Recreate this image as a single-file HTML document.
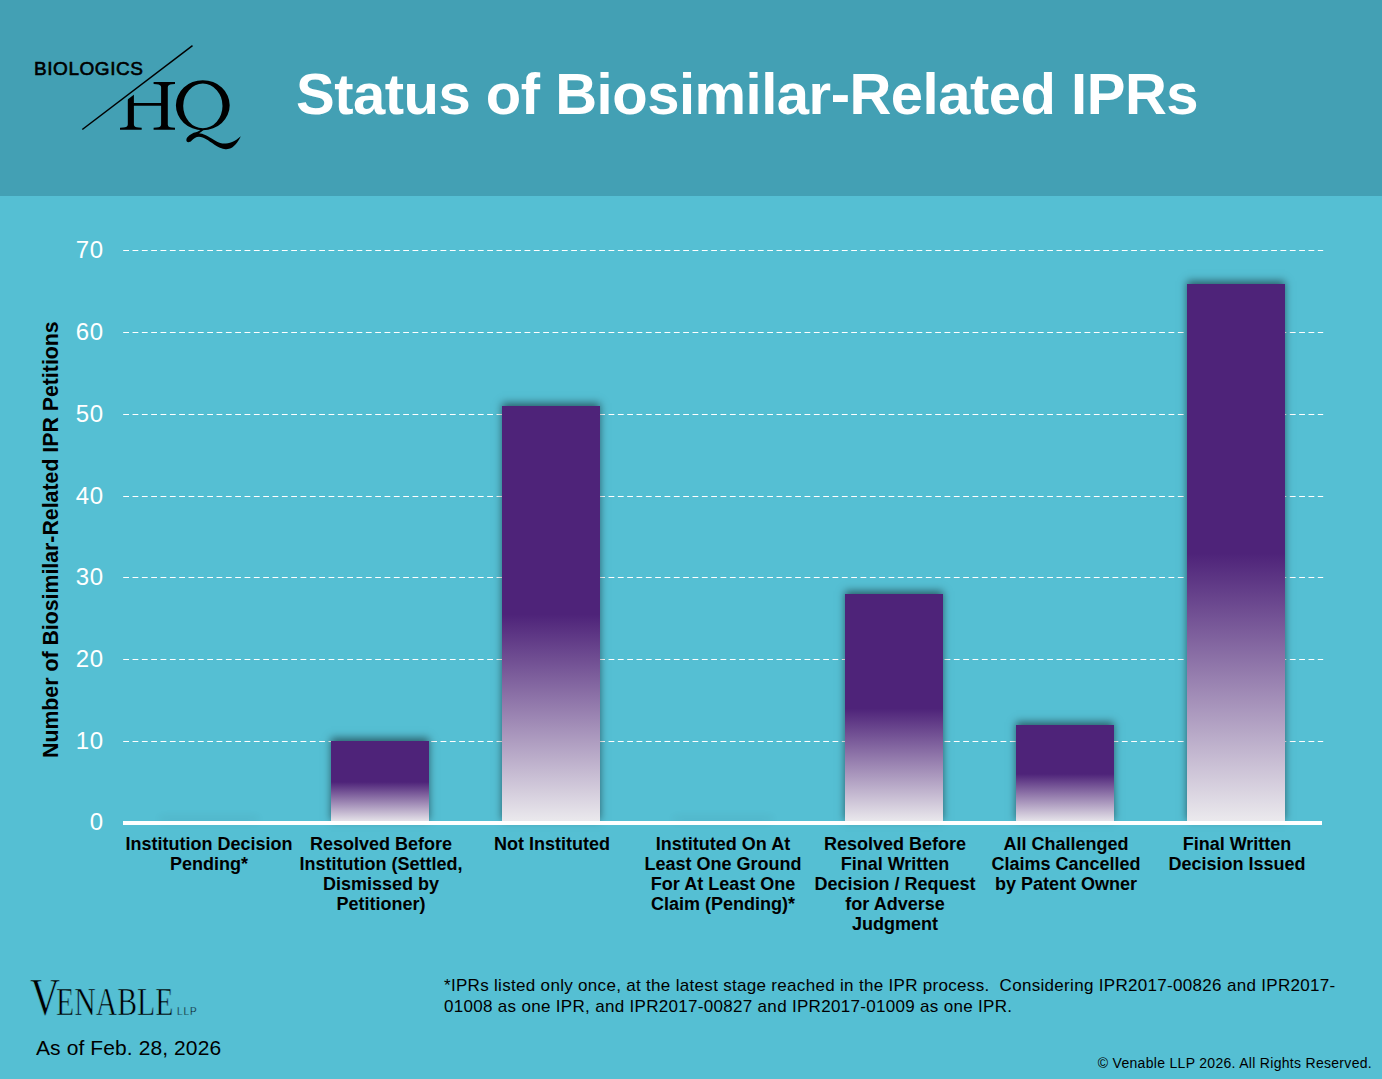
<!DOCTYPE html>
<html><head><meta charset="utf-8">
<style>
html,body{margin:0;padding:0;}
body{width:1382px;height:1079px;position:relative;overflow:hidden;background:#55bfd3;font-family:"Liberation Sans",sans-serif;}
.hdr{position:absolute;left:0;top:0;width:1382px;height:196px;background:#43a0b4;}
.title{position:absolute;left:296px;top:60.5px;font-weight:bold;font-size:58px;letter-spacing:-0.5px;color:#fff;white-space:nowrap;line-height:66px;}
.ylab{position:absolute;width:60px;text-align:right;color:#fff;font-size:24px;letter-spacing:0.6px;line-height:28px;}
.bar{position:absolute;width:98px;background:linear-gradient(to bottom,#4e2379 0%,#4e2379 50%,#ecebee 100%);box-shadow:0 -3px 8px rgba(0,0,0,0.5);}
.cat{position:absolute;width:180px;margin-left:1px;text-align:center;font-weight:bold;font-size:18px;line-height:20.05px;color:#000;}
.ytitle{position:absolute;font-weight:bold;font-size:21.3px;color:#000;white-space:nowrap;transform-origin:0 0;transform:rotate(-90deg);}
.foot{position:absolute;left:444px;top:974.8px;font-size:17px;letter-spacing:0.31px;line-height:21.5px;color:#000;width:950px;}
.asof{position:absolute;left:36px;top:1036px;font-size:21px;letter-spacing:0.1px;color:#000;white-space:nowrap;}
.copy{position:absolute;right:10px;top:1055.3px;font-size:14px;letter-spacing:0.3px;color:#000;white-space:nowrap;}
</style></head><body>
<div class="hdr"></div>

<div style="position:absolute;left:34px;top:57px;font-size:19px;letter-spacing:0.55px;-webkit-text-stroke:0.6px #000;color:#000;line-height:24px;white-space:nowrap">BIOLOGICS</div>
<svg style="position:absolute;left:0;top:0" width="260" height="196">
 <defs><clipPath id="hc"><polygon points="100,120.5 210,36.8 210,196 100,196"/></clipPath></defs>
 <line x1="82.3" y1="129.5" x2="192.5" y2="45.6" stroke="#000" stroke-width="1.5"/>
 <path clip-path="url(#hc)" fill="#000" d="M127.8,124.5 Q127.8,127.3 123,127.6 L120,127.8 L120,129.75 L141.7,129.75 L141.7,127.8 L138.7,127.6 Q133.9,127.3 133.9,124.5 L133.9,105.8 L161.1,105.8 L161.1,124.5 Q161.1,127.3 156.6,127.6 L153.6,127.8 L153.6,129.75 L175,129.75 L175,127.8 L172,127.6 Q167.8,127.3 167.8,124.5 L167.8,87.3 Q167.8,84.5 172,84.2 L175,84 L175,82 L153.6,82 L153.6,84 L156.6,84.2 Q161.1,84.5 161.1,87.3 L161.1,103.1 L133.9,103.1 L133.9,87.3 Q133.9,84.5 138.7,84.2 L141.7,84 L141.7,82 L120,82 L120,84 L123,84.2 Q127.8,84.5 127.8,87.3 Z"/>
 <path fill="#000" fill-rule="evenodd" d="M175.9,105.2 a26.9,25 0 1,0 53.8,0 a26.9,25 0 1,0 -53.8,0 Z M183.2,105.9 a19.65,22.3 0 1,0 39.3,0 a19.65,22.3 0 1,0 -39.3,0 Z"/>
 <path fill="#000" d="M187.4,137.3 C190,134.5 193,132.8 195.9,132.3 C198,131.6 200,130.5 201,129.8 L203.5,130 C202,131.5 200,132.6 199,133.2 C203,133.4 208,136 214.5,140.2 C219,142.8 222,143.6 224.1,143.6 C229,143.6 235,141.5 240.8,136.2 C238,142 234,147.5 229,148.8 C226,149.6 222,149.3 214.5,144.7 C208,140.5 204,137 199,136.8 C196,136.8 193.5,138.5 191.5,140.8 C190,142.5 187.5,142.8 186.6,141.3 C186,140 186.5,138.3 187.4,137.3 Z"/>
</svg>
<div style="position:absolute;left:30px;top:968.4px;font-family:'Liberation Serif',serif;color:#000;white-space:nowrap;transform-origin:0 0;transform:scaleX(0.8);line-height:60px;font-size:52px;-webkit-text-stroke:0.7px #55bfd3">V</div>
<div style="position:absolute;left:56px;top:972px;font-family:'Liberation Serif',serif;color:#000;white-space:nowrap;transform-origin:0 0;transform:scaleX(0.75);line-height:60px;font-size:39.7px;-webkit-text-stroke:0.7px #55bfd3">ENABLE</div>
<div style="position:absolute;left:177px;top:1005px;font-size:10px;letter-spacing:1px;color:#000;-webkit-text-stroke:0.3px #55bfd3;white-space:nowrap;line-height:14px">LLP</div>
<div class="title">Status of Biosimilar-Related IPRs</div>

<svg style="position:absolute;left:0;top:0" width="1382" height="1079">
 <g stroke="#fff" stroke-width="1" stroke-dasharray="5.8 3.533">
  <line x1="123.2" x2="1323.2" y1="250.5" y2="250.5"/>
  <line x1="123.2" x2="1323.2" y1="332.5" y2="332.5"/>
  <line x1="123.2" x2="1323.2" y1="414.5" y2="414.5"/>
  <line x1="123.2" x2="1323.2" y1="496.5" y2="496.5"/>
  <line x1="123.2" x2="1323.2" y1="577.5" y2="577.5"/>
  <line x1="123.2" x2="1323.2" y1="659.5" y2="659.5"/>
  <line x1="123.2" x2="1323.2" y1="741.5" y2="741.5"/>
 </g>
</svg>

<div class="ylab" style="left:43.7px;top:236px">70</div>
<div class="ylab" style="left:43.7px;top:318px">60</div>
<div class="ylab" style="left:43.7px;top:400px">50</div>
<div class="ylab" style="left:43.7px;top:482px">40</div>
<div class="ylab" style="left:43.7px;top:563px">30</div>
<div class="ylab" style="left:43.7px;top:645px">20</div>
<div class="ylab" style="left:43.7px;top:727px">10</div>
<div class="ylab" style="left:43.7px;top:808px">0</div>

<div class="bar" style="left:160px;top:822px;height:1px;box-shadow:0 -3px 8px rgba(0,0,0,0.3)"></div>
<div class="bar" style="left:674px;top:822px;height:1px;box-shadow:0 -3px 8px rgba(0,0,0,0.3)"></div>
<div class="bar" style="left:331px;top:741px;height:82px"></div>
<div class="bar" style="left:502px;top:406px;height:417px"></div>
<div class="bar" style="left:845px;top:594px;height:229px"></div>
<div class="bar" style="left:1016px;top:725px;height:98px"></div>
<div class="bar" style="left:1187px;top:284px;height:539px"></div>

<div style="position:absolute;left:123px;top:821px;width:1199px;height:4px;background:#fff"></div>

<div class="ytitle" style="left:39px;top:758px">Number of Biosimilar-Related IPR Petitions</div>

<div class="cat" style="left:118px;top:834px">Institution Decision<br>Pending*</div>
<div class="cat" style="left:290px;top:834px">Resolved Before<br>Institution (Settled,<br>Dismissed by<br>Petitioner)</div>
<div class="cat" style="left:461px;top:834px">Not Instituted</div>
<div class="cat" style="left:632px;top:834px">Instituted On At<br>Least One Ground<br>For At Least One<br>Claim (Pending)*</div>
<div class="cat" style="left:804px;top:834px">Resolved Before<br>Final Written<br>Decision / Request<br>for Adverse<br>Judgment</div>
<div class="cat" style="left:975px;top:834px">All Challenged<br>Claims Cancelled<br>by Patent Owner</div>
<div class="cat" style="left:1146px;top:834px">Final Written<br>Decision Issued</div>

<div class="foot">*IPRs listed only once, at the latest stage reached in the IPR process.&nbsp; Considering IPR2017-00826 and IPR2017-<br>01008 as one IPR, and IPR2017-00827 and IPR2017-01009 as one IPR.</div>
<div class="asof">As of Feb. 28, 2026</div>
<div class="copy">© Venable LLP 2026. All Rights Reserved.</div>
</body></html>
